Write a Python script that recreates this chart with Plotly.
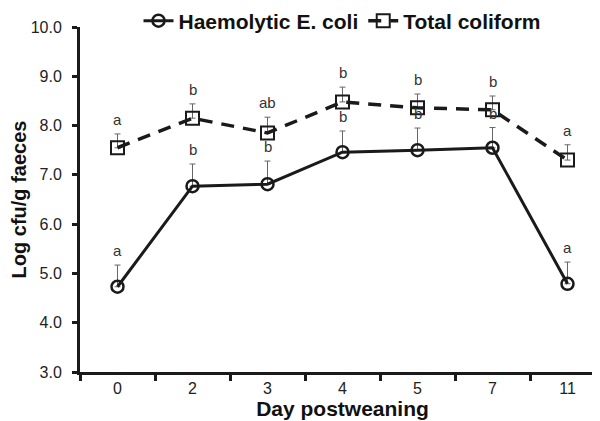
import plotly.graph_objects as go

days = ["0", "2", "3", "4", "5", "7", "11"]
haem = [4.73, 6.77, 6.81, 7.46, 7.50, 7.55, 4.79]
haem_se = [0.44, 0.45, 0.47, 0.43, 0.45, 0.41, 0.44]
haem_letters = ["a", "b", "b", "b", "b", "b", "a"]
coli = [7.55, 8.15, 7.85, 8.48, 8.36, 8.32, 7.30]
coli_se = [0.28, 0.29, 0.32, 0.30, 0.28, 0.28, 0.31]
coli_letters = ["a", "b", "ab", "b", "b", "b", "a"]
yticks = [3, 4, 5, 6, 7, 8, 9, 10]

FONT = "Liberation Sans, Arial, sans-serif"
idx = list(range(len(days)))

fig = go.Figure()
fig.add_trace(go.Scatter(
    x=idx, y=haem, mode="lines+markers", name="<b>Haemolytic E. coli</b>",
    line=dict(color="#1a1a1a", width=3),
    marker=dict(symbol="circle-open", size=12, color="#1a1a1a", line=dict(width=2.5)),
    error_y=dict(type="data", symmetric=False, array=haem_se, arrayminus=[0]*len(haem),
                 color="#666666", thickness=1, width=3),
))
fig.add_trace(go.Scatter(
    x=idx, y=coli, mode="lines+markers", name="<b>Total coliform</b>",
    line=dict(color="#1a1a1a", width=3.5, dash="13px,9px"),
    marker=dict(symbol="square-open", size=13, color="#1a1a1a", line=dict(width=2)),
    error_y=dict(type="data", symmetric=False, array=coli_se, arrayminus=[0]*len(coli),
                 color="#666666", thickness=1, width=3),
))

for i, v, s, t in zip(idx, haem, haem_se, haem_letters):
    fig.add_annotation(x=i, y=v + s, text=t, showarrow=False, yanchor="bottom", yshift=4,
                       font=dict(family=FONT, size=15, color="#333333"))
for i, v, s, t in zip(idx, coli, coli_se, coli_letters):
    fig.add_annotation(x=i, y=v + s, text=t, showarrow=False, yanchor="bottom", yshift=4,
                       font=dict(family=FONT, size=15, color="#333333"))

fig.update_layout(
    width=600, height=421,
    margin=dict(l=72, r=3, t=19, b=57, autoexpand=False),
    plot_bgcolor="white", paper_bgcolor="white",
    font=dict(family=FONT, color="#222222"),
    showlegend=True,
    legend=dict(orientation="h", x=0.5, xanchor="center", xref="paper",
                y=0.969, yanchor="middle", yref="container",
                font=dict(family=FONT, size=21, color="#111111"),
                bgcolor="rgba(0,0,0,0)", itemwidth=30),
    xaxis=dict(
        range=[-0.5, len(days) - 0.5], tickvals=idx, ticktext=days,
        showline=True, linecolor="#1a1a1a", linewidth=3,
        ticks="", showgrid=False, zeroline=False, automargin=False,
        tickfont=dict(family=FONT, size=16, color="#222222"),
        title=dict(text="<b>Day postweaning</b>", font=dict(family=FONT, size=21, color="#111111"), standoff=6),
    ),
    yaxis=dict(
        range=[3, 10], tickvals=yticks, ticktext=[f"{v:.1f}" for v in yticks],
        showline=True, linecolor="#1a1a1a", linewidth=3,
        ticks="outside", ticklen=5, tickwidth=3, tickcolor="#1a1a1a",
        ticklabelstandoff=7, automargin=False,
        tickfont=dict(family=FONT, size=16, color="#222222"),
        showgrid=False, zeroline=False,
        title=dict(text="<b>Log cfu/g faeces</b>", font=dict(family=FONT, size=20, color="#111111"), standoff=3),
    ),
)

fig.update_xaxes(minor=dict(tickvals=[i - 0.5 for i in idx] + [len(days) - 0.5],
                            ticks="outside", ticklen=6, tickwidth=3, tickcolor="#1a1a1a", showgrid=False))

fig.write_html("out.html")
